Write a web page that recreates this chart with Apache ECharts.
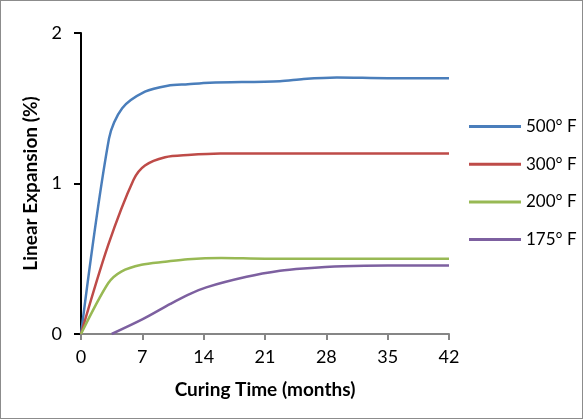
<!DOCTYPE html>
<html><head><meta charset="utf-8">
<script src="https://cdn.jsdelivr.net/npm/echarts@6/dist/echarts.min.js"></script>
<style>html,body{margin:0;padding:0;background:#fff}#c{width:581px;height:417px;border:1px solid #8c8c8c}</style>
</head><body><div id="c"></div>
<script>
var seriesNames = ['500° F', '300° F', '200° F', '175° F'];
var xTicks = [0, 7, 14, 21, 28, 35, 42];
var yTicks = [0, 1, 2];
var s500 = [[0,0],[3.2,1.3],[4.7,1.5],[7.3,1.61],[9.9,1.65],[12.2,1.66],[14.7,1.67],[22.7,1.68],[25.4,1.695],[29.2,1.705],[35,1.70],[42,1.70]];
var s300 = [[0,0],[3.1,0.59],[6,1.025],[7.3,1.12],[9.6,1.175],[12.2,1.19],[15.9,1.20],[24,1.20],[33,1.20],[42,1.20]];
var s200 = [[0,0],[3.1,0.337],[4.6,0.415],[6.9,0.46],[9.6,0.48],[12.2,0.497],[16,0.505],[21,0.50],[30,0.50],[42,0.50]];
var s175 = [[3.5,0],[7.1,0.10],[10.2,0.20],[12.2,0.26],[14.3,0.31],[18.9,0.38],[22.7,0.42],[25.4,0.435],[29.9,0.45],[35,0.455],[42,0.455]];
var seriesData = [s500, s300, s200, s175];
var colors = ['#4A7EBB', '#BE4B48', '#98B954', '#7D60A0'];
var font = 'Lato, "Open Sans", sans-serif';
var chart = echarts.init(document.getElementById('c'), null, {renderer:'canvas'});
chart.setOption({
  animation: false,
  color: colors,
  grid: {left: 80, right: 133, top: 32, bottom: 84, containLabel: false},
  legend: {
    orient: 'vertical', left: 468, top: 117, padding: 0, itemWidth: 52, itemHeight: 3, itemGap: 20.7,
    icon: 'rect',
    textStyle: {fontFamily: font, fontSize: 17, color: '#000', lineHeight: 17},
    data: seriesNames
  },
  xAxis: {
    type: 'value', min: xTicks[0], max: xTicks[xTicks.length-1], interval: 7,
    name: 'Curing Time (months)', nameLocation: 'middle', nameGap: 46,
    nameTextStyle: {fontFamily: font, fontSize: 19, fontWeight: 'bold', color: '#000'},
    axisLine: {lineStyle: {color: '#868686', width: 2}},
    axisTick: {show: true, length: 6, lineStyle: {color: '#868686', width: 2}},
    axisLabel: {fontFamily: font, fontSize: 18, color: '#000', margin: 14},
    splitLine: {show: false}
  },
  yAxis: {
    type: 'value', min: yTicks[0], max: yTicks[yTicks.length-1], interval: 1,
    name: 'Linear Expansion (%)', nameLocation: 'middle', nameGap: 39,
    nameTextStyle: {fontFamily: font, fontSize: 19, fontWeight: 'bold', color: '#000'},
    axisLine: {show: true, lineStyle: {color: '#000', width: 2}},
    axisTick: {show: true, inside: false, length: 7, lineStyle: {color: '#000', width: 2}},
    axisLabel: {fontFamily: font, fontSize: 18, color: '#000', margin: 19},
    splitLine: {show: false}
  },
  series: seriesNames.map(function(n, i){
    return {name: n, type: 'line', data: seriesData[i], smooth: 0.3, symbol: 'none',
      lineStyle: {width: 2.5, color: colors[i]}, itemStyle: {color: colors[i]}};
  })
});
</script></body></html>
